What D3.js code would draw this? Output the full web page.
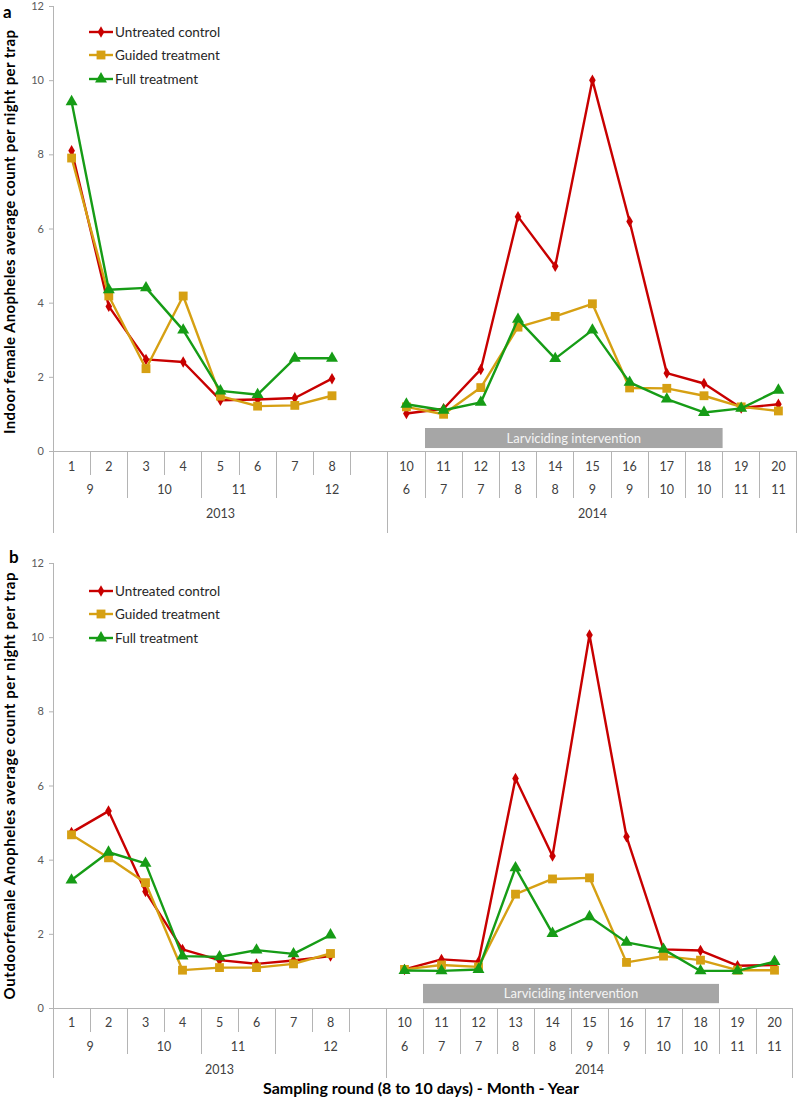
<!DOCTYPE html>
<meta charset="utf-8">
<style>
body { margin: 0; background: #fff; }
text { font-family: Lato, "Open Sans", sans-serif; }
.line { fill: none; stroke-width: 2.4px; stroke-linejoin: round; }
.grid { stroke: #b4b4b4; stroke-width: 1px; shape-rendering: crispEdges; }
</style>
<body>
<script src="https://d3js.org/d3.v7.min.js"></script>
<script>

// category axis: sampling round, month, year (slot 9 is empty)
var rounds = ["1","2","3","4","5","6","7","8","","10","11","12","13","14","15","16","17","18","19","20"];
var months = ["9","10","11","12","6","7","7","8","8","9","9","10","10","11","11"];
var monthSpans = [2,2,2,3,1,1,1,1,1,1,1,1,1,1,1];
var years = ["2013","2014"];
var yearSpans = [9,11];
var yTicks = [0,2,4,6,8,10,12];
var seriesNames = ["Untreated control","Guided treatment","Full treatment"];

// panel a - indoor
var aControl = [8.1,3.9,2.47,2.4,1.37,1.39,1.43,1.95,null,1.01,1.14,2.2,6.32,4.98,10.0,6.19,2.1,1.82,1.16,1.26];
var aGuided  = [7.9,4.18,2.22,4.18,1.48,1.21,1.23,1.49,null,1.19,0.99,1.71,3.34,3.63,3.97,1.7,1.69,1.49,1.19,1.08];
var aFull    = [9.42,4.35,4.4,3.26,1.62,1.52,2.5,2.5,null,1.26,1.1,1.31,3.55,2.49,3.26,1.85,1.4,1.04,1.15,1.64];

// panel b - outdoor
var bControl = [4.73,5.31,3.14,1.58,1.29,1.19,1.28,1.4,null,1.04,1.31,1.25,6.19,4.1,10.06,4.62,1.58,1.55,1.14,1.16];
var bGuided  = [4.67,4.05,3.38,1.02,1.09,1.09,1.19,1.47,null,1.04,1.16,1.11,3.07,3.48,3.51,1.23,1.4,1.29,1.02,1.02];
var bFull    = [3.45,4.2,3.9,1.4,1.38,1.56,1.46,1.97,null,1.01,1.0,1.04,3.78,2.01,2.46,1.77,1.58,1.0,1.0,1.25];

var colors = ["#c80000","#d6a013","#169c16"];
var symbols = [d3.symbolDiamond, d3.symbolSquare, d3.symbolTriangle];
var symSizes = [38, 78, 62];

var svg = d3.select("body").append("svg")
    .attr("width", 797)
    .attr("height", 1098);

function drawPanel(p) {
  var g = svg.append("g");

  var x = d3.scaleBand().domain(d3.range(rounds.length)).range(p.xr);
  var y = d3.scaleLinear().domain([0, 12]).range([p.zero, p.top]);
  var cx = function(i) { return x(i) + x.bandwidth() / 2; };
  var y0 = y(0);

  // y axis
  var yAxis = d3.axisLeft(y).tickValues(yTicks).tickSize(4).tickPadding(5);
  var ya = g.append("g").attr("transform", "translate(" + p.xr[0] + ",0)").call(yAxis);
  ya.select(".domain").remove();
  ya.selectAll("line").attr("stroke", "#b4b4b4");
  ya.selectAll("text").attr("fill", "#595959").style("font-size", "11px")
    .style("font-family", "Lato, sans-serif");
  g.append("line").attr("class", "grid")
    .attr("x1", p.xr[0]).attr("x2", p.xr[0]).attr("y1", p.top).attr("y2", y0 + p.yearEnd);

  // x baseline
  g.append("line").attr("class", "grid")
    .attr("x1", p.xr[0]).attr("x2", p.xr[1]).attr("y1", y0).attr("y2", y0);

  // dividers
  var monthEdges = [], yearEdges = [], acc = 0;
  monthSpans.forEach(function(s) { acc += s; monthEdges.push(acc); });
  acc = 0;
  yearSpans.forEach(function(s) { acc += s; yearEdges.push(acc); });
  for (var i = 1; i <= rounds.length; i++) {
    var len = p.short;
    if (monthEdges.indexOf(i) >= 0) len = p.long;
    if (yearEdges.indexOf(i) >= 0) len = p.yearEnd;
    var xx = i === rounds.length ? p.xr[1] - 0.5 : x(i);
    g.append("line").attr("class", "grid")
      .attr("x1", xx).attr("x2", xx).attr("y1", y0).attr("y2", y0 + len);
  }

  // category labels
  g.selectAll(".round").data(rounds).enter().append("text")
    .attr("x", function(d, i) { return cx(i); })
    .attr("y", p.rows[0])
    .attr("text-anchor", "middle")
    .attr("fill", "#404040").style("font-size", "12.5px")
    .text(function(d) { return d; });
  acc = 0;
  months.forEach(function(m, j) {
    var s = acc, e = acc + monthSpans[j];
    acc = e;
    g.append("text")
      .attr("x", (x(s) + (e >= rounds.length ? p.xr[1] : x(e))) / 2)
      .attr("y", p.rows[1])
      .attr("text-anchor", "middle")
      .attr("fill", "#404040").style("font-size", "12.5px")
      .text(m);
  });
  acc = 0;
  years.forEach(function(yr, j) {
    var s = acc, e = acc + yearSpans[j];
    acc = e;
    g.append("text")
      .attr("x", (x(s) + (e >= rounds.length ? p.xr[1] : x(e))) / 2)
      .attr("y", p.rows[2])
      .attr("text-anchor", "middle")
      .attr("fill", "#404040").style("font-size", "12.5px")
      .text(yr);
  });

  // larviciding bar (rounds 11 to 18)
  g.append("rect")
    .attr("x", x(10)).attr("width", x(18) - x(10))
    .attr("y", y(p.bar[0])).attr("height", y(p.bar[1]) - y(p.bar[0]))
    .attr("fill", "#a6a6a6");
  g.append("text")
    .attr("x", (x(10) + x(18)) / 2)
    .attr("y", (y(p.bar[0]) + y(p.bar[1])) / 2 + 4.5)
    .attr("text-anchor", "middle")
    .attr("fill", "#f4f4f4").style("font-size", "13px")
    .text("Larviciding intervention");

  // series
  var line = d3.line()
    .defined(function(d) { return d != null; })
    .x(function(d, i) { return cx(i); })
    .y(function(d) { return y(d); });

  p.series.forEach(function(vals, k) {
    g.append("path").datum(vals)
      .attr("class", "line")
      .attr("stroke", colors[k])
      .attr("d", line);
    var pts = vals.map(function(v, i) { return {i: i, v: v}; })
      .filter(function(d) { return d.v != null; });
    g.selectAll(".m" + k).data(pts).enter()
      .append("path")
      .attr("transform", function(d) { return "translate(" + cx(d.i) + "," + y(d.v) + ")"; })
      .attr("d", d3.symbol().type(symbols[k]).size(symSizes[k]))
      .attr("fill", colors[k]);
  });

  // legend
  seriesNames.forEach(function(n, k) {
    var ly = p.legend[k];
    g.append("line").attr("x1", 89).attr("x2", 113).attr("y1", ly).attr("y2", ly)
      .attr("stroke", colors[k]).attr("stroke-width", 2.4);
    g.append("path").attr("transform", "translate(101," + ly + ")")
      .attr("d", d3.symbol().type(symbols[k]).size(symSizes[k]))
      .attr("fill", colors[k]);
    g.append("text").attr("x", 115).attr("y", ly + 5)
      .attr("fill", "#262626").style("font-size", "13.5px")
      .text(n);
  });

  // y title
  g.append("text")
    .attr("transform", "translate(" + p.titleX + "," + p.titleY + ") rotate(-90)")
    .attr("text-anchor", "middle")
    .attr("font-weight", "bold").style("font-size", "15px")
    .attr("textLength", p.titleLen).attr("lengthAdjust", "spacing")
    .attr("fill", "#000")
    .text(p.title);

  // panel letter
  g.append("text").attr("x", p.letterPos[0]).attr("y", p.letterPos[1])
    .attr("font-weight", "bold").style("font-size", "17px")
    .text(p.letter);
}

drawPanel({
  top: 6, zero: 451, xr: [53, 797],
  series: [aControl, aGuided, aFull],
  rows: [471, 494, 518], short: 24, long: 47, yearEnd: 82,
  bar: [0.62, 0.08],
  legend: [32, 55, 79],
  title: "Indoor  female Anopheles average count per night per trap",
  titleX: 15, titleY: 232, titleLen: 404,
  letter: "a", letterPos: [3, 18]
});

drawPanel({
  top: 563, zero: 1008, xr: [53, 793],
  series: [bControl, bGuided, bFull],
  rows: [1027, 1051, 1074], short: 24, long: 46, yearEnd: 70,
  bar: [0.65, 0.13],
  legend: [591, 614, 638],
  title: "Outdoorfemale Anopheles  average count per night per trap",
  titleX: 15, titleY: 786, titleLen: 427,
  letter: "b", letterPos: [9, 563]
});

// x title
svg.append("text")
  .attr("x", 421).attr("y", 1094)
  .attr("text-anchor", "middle")
  .attr("font-weight", "bold").style("font-size", "16px")
  .text("Sampling round (8 to 10 days) - Month - Year");

</script>
</body>
